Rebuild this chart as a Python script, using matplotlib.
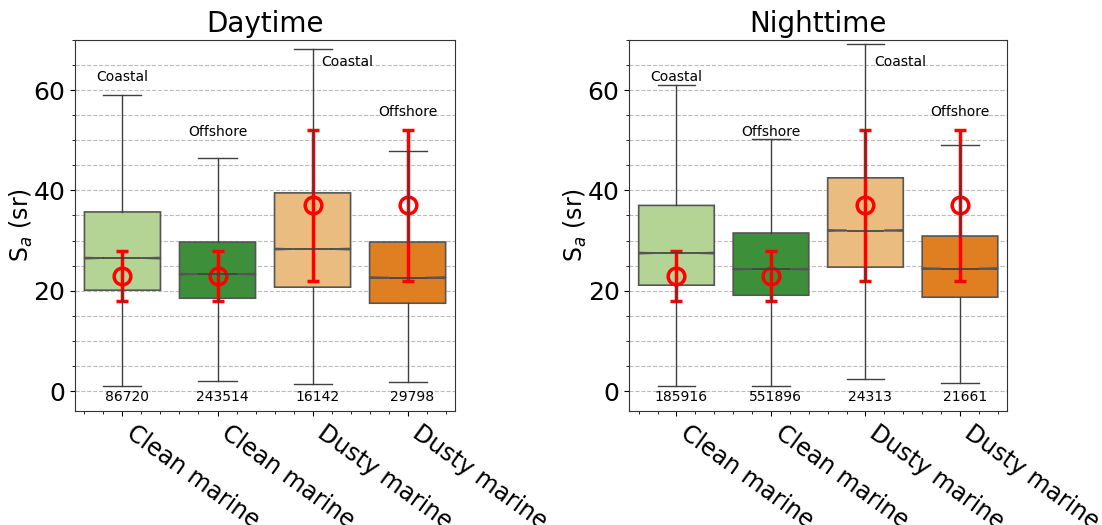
import numpy as np
import matplotlib.pyplot as plt
from matplotlib.ticker import MultipleLocator, AutoMinorLocator

# ── Data ──────────────────────────────────────────────────────────────────────
categories = ["Clean marine", "Clean marine", "Dusty marine", "Dusty marine"]
regions    = ["Coastal", "Offshore", "Coastal", "Offshore"]
colors     = ["#b3d495", "#3d8f3a", "#ebbc7f", "#e07f22"]

day_whislo = [0.9, 1.9, 1.3, 1.7]
day_q1     = [20.1, 18.5, 20.7, 17.5]
day_med    = [26.5, 23.3, 28.3, 22.6]
day_q3     = [35.7, 29.7, 39.5, 29.7]
day_whishi = [59.0, 46.5, 68.1, 47.8]
day_counts = [86720, 243514, 16142, 29798]

night_whislo = [0.9, 1.0, 2.3, 1.5]
night_q1     = [21.1, 19.1, 24.7, 18.7]
night_med    = [27.5, 24.3, 32.0, 24.4]
night_q3     = [37.0, 31.5, 42.5, 30.9]
night_whishi = [61.0, 50.2, 69.1, 49.1]
night_counts = [185916, 551896, 24313, 21661]

# reference lidar ratio (mean and range) per type
ref_mean = [23, 23, 37, 37]
ref_lo   = [18, 18, 22, 22]
ref_hi   = [28, 28, 52, 52]

label_y   = [62.6, 51.6, 65.6, 55.6]
label_dx  = [0.0, 0.0, 0.37, 0.0]


def draw_panel(ax, title, whislo, q1, med, q3, whishi, counts):
    stats = []
    for i in range(len(categories)):
        stats.append(dict(whislo=whislo[i], q1=q1[i], med=med[i], q3=q3[i],
                          whishi=whishi[i], cilo=med[i] - 0.12,
                          cihi=med[i] + 0.12, fliers=[]))
    pos = np.arange(len(categories))
    line = dict(color="#3f3f3f", linewidth=1.0, zorder=3)
    bp = ax.bxp(stats, positions=pos, widths=0.8, shownotches=True,
                patch_artist=True, showfliers=False,
                boxprops=dict(edgecolor="#555555", linewidth=1.2),
                medianprops=dict(color="#3f3f3f", linewidth=1.2, zorder=3),
                whiskerprops=line, capprops=line)
    for patch, c in zip(bp["boxes"], colors):
        patch.set_facecolor(c)
        patch.set_zorder(1.5)

    ax.errorbar(pos, ref_mean,
                yerr=[np.array(ref_mean) - np.array(ref_lo),
                      np.array(ref_hi) - np.array(ref_mean)],
                fmt="o", color="red", ecolor="red", elinewidth=2.5, capsize=4,
                capthick=2.5, markersize=12, markerfacecolor="none",
                markeredgewidth=2.5, zorder=2)

    for i in range(len(categories)):
        ax.text(pos[i] + label_dx[i], label_y[i], regions[i], ha="center",
                va="center", fontsize=10)
        ax.text(pos[i] + 0.05, -1.2, str(counts[i]), ha="center", va="center",
                fontsize=10)

    ax.set_xlim(-0.5, 3.5)
    ax.set_ylim(-4, 70)
    ax.set_title(title, fontsize=20)
    ax.set_xticks(pos)
    ax.set_xticklabels(categories, rotation=-36, ha="left", fontsize=17)
    ax.yaxis.set_major_locator(MultipleLocator(20))
    ax.yaxis.set_minor_locator(MultipleLocator(5))
    ax.xaxis.set_minor_locator(AutoMinorLocator(5))
    ax.tick_params(axis="y", labelsize=18)
    ax.grid(axis="y", which="both", linestyle="--", color="#bbbbbb",
            linewidth=0.8, zorder=0)
    ax.set_axisbelow(True)
    ax.set_ylabel("S$_a$ (sr)", fontsize=17, labelpad=-1)
    for s in ax.spines.values():
        s.set_color("#333333")


fig = plt.figure(figsize=(11.02, 5.25), dpi=100)
ax1 = fig.add_axes([0.068, 0.217, 0.345, 0.707])
ax2 = fig.add_axes([0.571, 0.217, 0.343, 0.707])

draw_panel(ax1, "Daytime", day_whislo, day_q1, day_med, day_q3, day_whishi,
           day_counts)
draw_panel(ax2, "Nighttime", night_whislo, night_q1, night_med, night_q3,
           night_whishi, night_counts)

fig.savefig("out.png", dpi=100)
